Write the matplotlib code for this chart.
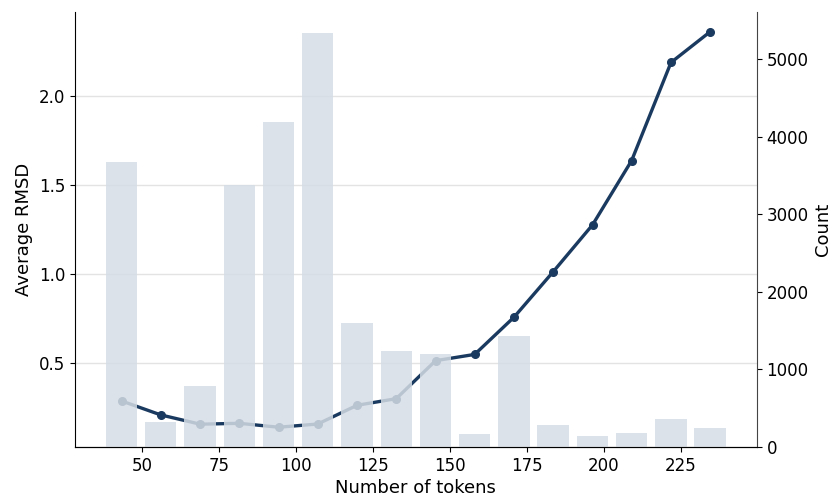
import numpy as np
import matplotlib
matplotlib.use("Agg")
import matplotlib.pyplot as plt

# bin centres (number of tokens)
bin_centers = [43.4, 56.1, 68.9, 81.6, 94.4, 107.1, 119.9, 132.6,
               145.4, 158.1, 170.9, 183.6, 196.4, 209.1, 221.9, 234.6]
bin_width = 12.75

# number of structures per bin
counts = [3680, 320, 785, 3385, 4190, 5345, 1600, 1240,
          1200, 170, 1430, 285, 140, 185, 360, 245]

# average RMSD per bin
avg_rmsd = [0.289, 0.211, 0.159, 0.164, 0.142, 0.160, 0.265, 0.302,
            0.515, 0.550, 0.759, 1.013, 1.276, 1.636, 2.186, 2.358]

line_color = "#1b3a5f"
bar_color = "#d6dde6"

fig = plt.figure(figsize=(8.39, 5), dpi=100)
ax = fig.add_axes([0.0894, 0.106, 0.8126, 0.870])

ax.plot(bin_centers, avg_rmsd, color=line_color, lw=2.4, marker="o",
        ms=5.5, zorder=2)
ax.set_yticks([0.5, 1.0, 1.5, 2.0])
ax.grid(axis="y", color="#e3e3e3", lw=1)
ax.set_axisbelow(True)
ax.set_xlabel("Number of tokens", fontsize=13, labelpad=3)
ax.set_ylabel("Average RMSD", fontsize=13)
ax.tick_params(labelsize=12)
ax.spines["top"].set_visible(False)
ax.spines["right"].set_visible(False)

# histogram counts on twin axis, drawn over the line
ax2 = ax.twinx()
ax2.bar(bin_centers, counts, width=bin_width * 0.8, color=bar_color,
        alpha=0.85, zorder=1)
ax2.set_ylabel("Count", fontsize=13)
ax2.tick_params(labelsize=12)
ax2.spines["top"].set_visible(False)
ax2.spines["left"].set_visible(False)
ax2.spines["right"].set_color("#444444")

fig.savefig("out.png", dpi=100)
